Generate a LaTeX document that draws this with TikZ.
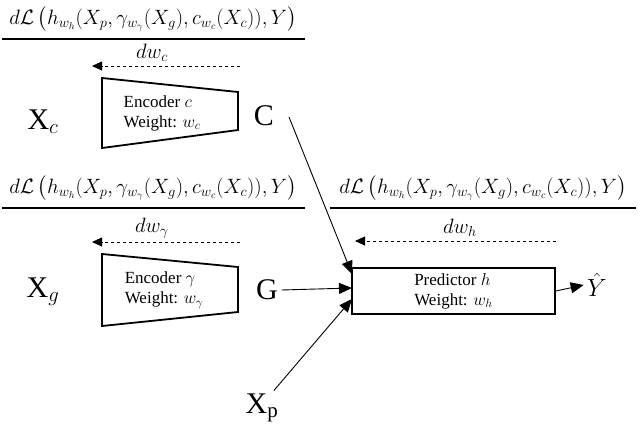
\documentclass[tikz,border=0pt]{standalone}
\usepackage{amsmath,amssymb}
\usepackage{fontspec}
\setmainfont{Liberation Serif}
\usetikzlibrary{arrows.meta}
\begin{document}
\begin{tikzpicture}[x=1pt,y=-1pt,
  frac/.style={font=\fontsize{20.5}{22}\selectfont,inner sep=0pt},
  enc/.style={draw,line width=1.8pt},
  lbl/.style={font=\fontsize{17}{20}\selectfont,align=left},
  big/.style={font=\fontsize{30}{32}\selectfont},
  arr/.style={-{Triangle[length=13pt,width=11pt]},line width=0.9pt},
  dasharr/.style={dashed,line width=0.9pt,-{Triangle[length=10pt,width=9pt]}}]
\useasboundingbox (0,0) rectangle (640,429);
\newcommand{\lossnum}{$d\mathcal{L}\left(h_{w_h}(X_p,\gamma_{w_\gamma}(X_g),c_{w_c}(X_c)),Y\right)$}
% top-left fraction
\node[frac] (n1) at (153,19) {\lossnum};
\draw[line width=1.2pt] (2,39) coordinate (l1a) -- (305,39) coordinate (l1b);
\node[frac] (d1) at (152,53) {$dw_c$};
\coordinate (a1s) at (240,66); \coordinate (a1e) at (92,66);
\draw[dasharr] (a1s) -- (a1e);
\draw[enc] (102,78) -- (238,92) -- (238,130) -- (102,148) -- cycle;
\node[lbl] (e1) at (162,113) {Encoder $c$\\Weight: $w_c$};
\node[big] (xc) at (43,122) {X$_c$};
\node[big] (c) at (264,116) {C};
% second fraction
\node[frac] (n2) at (153,188) {\lossnum};
\draw[line width=1.2pt] (2,208) -- (305,208);
\node[frac] (d2) at (152,228) {$dw_\gamma$};
\draw[dasharr] (240,242) -- (92,242);
\draw[enc] (102,254) -- (238,267) -- (238,312) -- (102,326) -- cycle;
\node[lbl] (e2) at (164,290) {Encoder $\gamma$\\Weight: $w_\gamma$};
\node[big] (xg) at (43,292) {X$_g$};
\node[big] (g) at (267,290) {G};
% right fraction
\node[frac] (n3) at (483,188) {\lossnum};
\draw[line width=1.2pt] (330,208) -- (636,208);
\node[frac] (d3) at (460,228) {$dw_h$};
\draw[dasharr] (556,241) -- (355,241);
\node[draw,line width=1.8pt,minimum width=203pt,minimum height=46pt,lbl] (p) at (453.5,291) {Predictor $h$\\Weight: $w_h$};
\node[big] (xp) at (262,408) {X$_\mathrm{p}$};
\node[font=\fontsize{26}{28}\selectfont] (y) at (597,285) {$\hat{Y}$};
\draw[arr] (289,117) -- (352,274);
\draw[arr] (g.east) -- (352,288);
\draw[arr] (xp.north east) ++(-8,0) -- (352,299);
\draw[arr] (p.east) -- (y.west);
\end{tikzpicture}
\end{document}
